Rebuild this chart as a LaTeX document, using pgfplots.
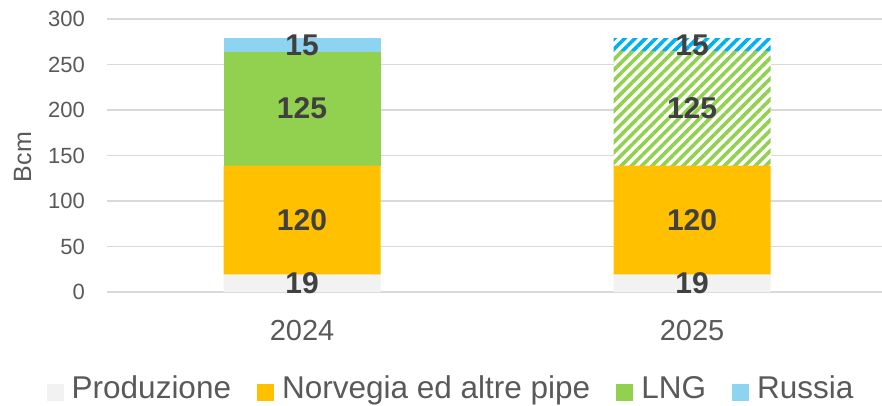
\documentclass[border=0pt]{standalone}
\usepackage{fontspec}
\setmainfont{Liberation Sans}
\usepackage{pgfplots}
\pgfplotsset{compat=1.18}
\usetikzlibrary{patterns.meta}
\definecolor{prodc}{HTML}{F2F2F2}
\definecolor{norvc}{HTML}{FFC000}
\definecolor{lngc}{HTML}{92D050}
\definecolor{rusc}{HTML}{8DD4F0}
\definecolor{rushc}{HTML}{00B0F0}
\definecolor{tickc}{HTML}{595959}
\definecolor{labc}{HTML}{404040}
\definecolor{gridc}{HTML}{D9D9D9}
\begin{document}
\begin{tikzpicture}
\pgfplotsset{
  common/.style={
    width=775pt, height=273pt, scale only axis,
    xmin=-0.5, xmax=1.487, ymin=0, ymax=300,
  }
}
\begin{axis}[
  common, name=ax,
  ybar stacked, bar width=157pt,
  /pgf/number format/assume math mode=true,
  axis line style={draw=none},
  major tick length=0pt,
  ymajorgrids, grid style={draw=gridc, line width=1.3pt},
  ytick={0,50,...,300},
  xtick={0,1}, xticklabels={2024,2025},
  yticklabel style={font=\fontsize{22}{26}\selectfont, text=tickc, inner sep=0pt, xshift=-22pt},
  xticklabel style={font=\fontsize{29}{34}\selectfont, text=tickc, inner sep=0pt, yshift=-28pt},
  ylabel={Bcm},
  ylabel style={font=\fontsize{25}{30}\selectfont, text=tickc, at={(axis description cs:-0.109,0.4945)}, anchor=center},
  legend style={at={(axis description cs:0.4426,-0.3516)}, anchor=center, draw=none, fill=none,
    font=\fontsize{31.5}{36}\selectfont, text=tickc, inner sep=0pt,
    nodes={inner xsep=0pt, inner ysep=3pt},
    /tikz/every odd column/.append style={column sep=8pt},
    /tikz/every even column/.append style={column sep=26pt}},
  legend columns=4,
  legend image code/.code={\fill[#1] (0pt,-13pt) rectangle (17pt,4pt);},
]
\addplot[fill=prodc, draw=none] coordinates {(0,19) (1,19)};
\addplot[fill=norvc, draw=none] coordinates {(0,120) (1,120)};
\addplot[fill=lngc, draw=none] coordinates {(0,125) (1,0)};
\addplot[fill=rusc, draw=none] coordinates {(0,15) (1,0)};
\addplot[fill=white, draw=none, postaction={pattern={Lines[angle=45,distance=7.3pt,line width=3.6pt]}, pattern color=lngc}] coordinates {(0,0) (1,125)};
\addplot[fill=white, draw=none, postaction={pattern={Lines[angle=45,distance=7.3pt,line width=3.6pt]}, pattern color=rushc}] coordinates {(0,0) (1,15)};
\legend{Produzione, Norvegia ed altre pipe, LNG, Russia}
\end{axis}
\begin{axis}[common, hide axis, at={(ax.south west)}, anchor=south west]
\addplot[draw=none, mark=none, nodes near coords, point meta=explicit symbolic,
  every node near coord/.style={anchor=center, inner sep=0pt, font=\bfseries\fontsize{30}{34}\selectfont, text=labc}]
  table[meta=lab] {
x y lab
0 9.5 19
0 79 120
0 201.5 125
0 271.5 15
1 9.5 19
1 79 120
1 201.5 125
1 271.5 15
};
\end{axis}
\pgfresetboundingbox
\path[use as bounding box] ([shift={(-107pt,-113pt)}]ax.south west) rectangle ++(882pt,405pt);
\end{tikzpicture}
\end{document}
